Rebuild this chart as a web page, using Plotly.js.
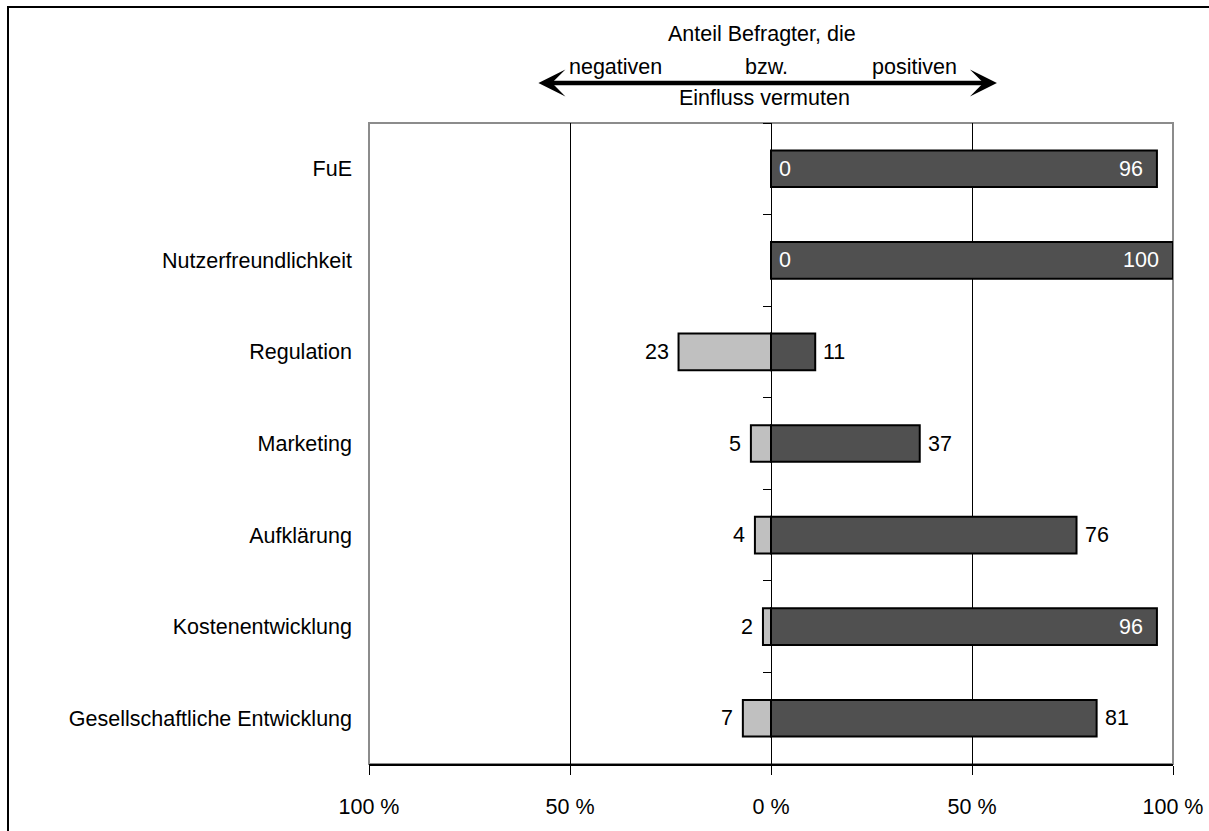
<!DOCTYPE html>
<html lang="de">
<head>
<meta charset="utf-8">
<script src="https://cdn.plot.ly/plotly-3.0.1.min.js"></script>
<style>
  html, body { margin: 0; padding: 0; background: #fff; overflow: hidden; width: 1209px; height: 831px; }
  #frame {
    position: absolute; left: 7px; top: 6px; width: 1300px; height: 900px;
    border-left: 2px solid #000; border-top: 2px solid #000;
  }
  #chart { position: absolute; left: 0; top: 0; width: 1209px; height: 831px; }
</style>
</head>
<body>
<div id="frame"></div>
<div id="chart"></div>
<script>
// Survey: share of respondents expecting a negative or a positive influence
const categories = [
  'FuE',
  'Nutzerfreundlichkeit',
  'Regulation',
  'Marketing',
  'Aufklärung',
  'Kostenentwicklung',
  'Gesellschaftliche Entwicklung'
];
const negativeShare = [0, 0, 23, 5, 4, 2, 7];
const positiveShare = [96, 100, 11, 37, 76, 96, 81];
const xTickVals = [-100, -50, 0, 50, 100];
const xTickText = ['100 %', '50 %', '0 %', '50 %', '100 %'];

const FONT = 'Arial, "Liberation Sans", sans-serif';
const FS = 21.5;
const DARK = '#505050';
const LIGHT = '#c0c0c0';

const traces = [
  {
    type: 'bar', orientation: 'h', name: 'negativ',
    y: categories, x: negativeShare.map(v => -v),
    width: 0.4,
    marker: { color: LIGHT, line: { color: '#000', width: 2 } },
    hoverinfo: 'skip', showlegend: false
  },
  {
    type: 'bar', orientation: 'h', name: 'positiv',
    y: categories, x: positiveShare,
    width: 0.4,
    marker: { color: DARK, line: { color: '#000', width: 2 } },
    hoverinfo: 'skip', showlegend: false
  },
  // carrier for the category ticks drawn along the zero line
  {
    type: 'scatter', mode: 'markers', yaxis: 'y2',
    y: categories, x: categories.map(() => 0),
    marker: { opacity: 0 }, hoverinfo: 'skip', showlegend: false
  }
];

// value labels
const annotations = [];
categories.forEach((c, i) => {
  const n = negativeShare[i];
  if (n === 0) {
    annotations.push({ x: 0, y: c, text: String(n), showarrow: false,
      xanchor: 'left', xshift: 6, font: { family: FONT, size: FS, color: '#fff' } });
  } else {
    annotations.push({ x: -n, y: c, text: String(n), showarrow: false,
      xanchor: 'right', xshift: -8, font: { family: FONT, size: FS, color: '#000' } });
  }
  const p = positiveShare[i];
  if (p >= 90) {
    annotations.push({ x: p, y: c, text: String(p), showarrow: false,
      xanchor: 'right', xshift: -12, font: { family: FONT, size: FS, color: '#fff' } });
  } else {
    annotations.push({ x: p, y: c, text: String(p), showarrow: false,
      xanchor: 'left', xshift: 6, font: { family: FONT, size: FS, color: '#000' } });
  }
});

// header above the plot: double arrow with captions
const head = (text, x, y) => ({
  xref: 'paper', yref: 'paper', x, y, text, showarrow: false,
  xanchor: 'center', yanchor: 'middle',
  font: { family: FONT, size: FS, color: '#000' }
});
annotations.push(
  head('Anteil Befragter, die', 0.489, 1.139),
  head('negativen', 0.307, 1.088),
  head('bzw.', 0.495, 1.088),
  head('positiven', 0.678, 1.088),
  head('Einfluss vermuten', 0.4925, 1.039),
  {
    xref: 'paper', yref: 'paper', x: 0.781, y: 1.0625, text: '',
    showarrow: true, ax: -460, ay: 0,
    arrowside: 'end+start', arrowhead: 3, startarrowhead: 3,
    arrowsize: 1, startarrowsize: 1, arrowwidth: 4.5, arrowcolor: '#000'
  }
);

const layout = {
  width: 1209, height: 831,
  margin: { l: 369, r: 36, t: 123, b: 67, pad: 0 },
  paper_bgcolor: 'rgba(0,0,0,0)', plot_bgcolor: 'rgba(0,0,0,0)',
  font: { family: FONT, size: FS, color: '#000' },
  barmode: 'relative',
  bargap: 0.6,
  showlegend: false,
  xaxis: {
    range: [-100, 100], fixedrange: true,
    tickmode: 'array', tickvals: xTickVals, ticktext: xTickText,
    ticks: 'outside', ticklen: 9, tickwidth: 1, tickcolor: '#000',
    ticklabelstandoff: 14,
    showgrid: false,
    minor: { tickmode: 'array', tickvals: [-50, 50], showgrid: true, gridcolor: '#000', gridwidth: 1, ticks: '' },
    zeroline: true, zerolinecolor: '#000', zerolinewidth: 1,
    showline: true, linecolor: '#000', linewidth: 1.6,
    tickfont: { family: FONT, size: FS, color: '#000' }
  },
  yaxis: {
    type: 'category', categoryorder: 'array', categoryarray: categories,
    range: [6.5, -0.5], fixedrange: true,
    ticks: '', showgrid: false, zeroline: false, showline: false,
    ticklabelstandoff: 16,
    tickfont: { family: FONT, size: FS, color: '#000' }
  },
  yaxis2: {
    type: 'category', categoryorder: 'array', categoryarray: categories,
    range: [6.5, -0.5], fixedrange: true,
    overlaying: 'y', anchor: 'free', position: 0.5, side: 'left',
    ticks: 'outside', tickson: 'boundaries', ticklen: 8, tickwidth: 1, tickcolor: '#000',
    showticklabels: false, showgrid: false, zeroline: false, showline: false
  },
  shapes: [
    { type: 'rect', xref: 'paper', yref: 'paper', x0: 0, x1: 1, y0: 0, y1: 1,
      line: { color: '#8c8c8c', width: 2 }, layer: 'below' }
  ],
  annotations
};

Plotly.newPlot('chart', traces, layout, { staticPlot: true, displayModeBar: false });
</script>
</body>
</html>
